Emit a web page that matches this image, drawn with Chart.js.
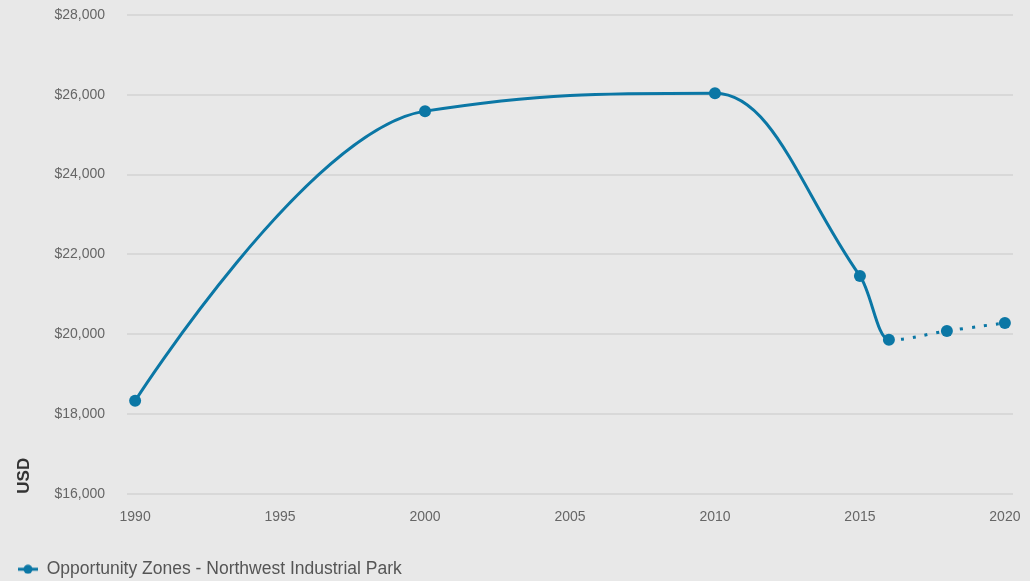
<!DOCTYPE html>
<html>
<head>
<meta charset="utf-8">
<script src="https://cdn.jsdelivr.net/npm/chart.js@4/dist/chart.umd.min.js"></script>
<style>
  html, body { margin: 0; padding: 0; background: #e8e8e8; }
  #wrap { width: 1030px; height: 581px; position: relative; }
</style>
</head>
<body>
<div id="wrap"><canvas id="c"></canvas></div>
<script>
const years = [1990, 2000, 2010, 2015, 2016, 2018, 2020];
const values = [18330, 25590, 26040, 21460, 19860, 20080, 20280];
const xTicks = [1990, 1995, 2000, 2005, 2010, 2015, 2020];
const seriesLabel = 'Opportunity Zones - Northwest Industrial Park';
const projectedFrom = 2016;

const lineColor = '#0b77a5';

const icon = document.createElement('canvas');
icon.width = 20; icon.height = 10;
(function(){
  const g = icon.getContext('2d');
  g.strokeStyle = lineColor; g.lineWidth = 3;
  g.beginPath(); g.moveTo(0, 5); g.lineTo(20, 5); g.stroke();
  g.fillStyle = lineColor;
  g.beginPath(); g.arc(10, 5, 4.5, 0, Math.PI * 2); g.fill();
})();

// Spline control points (smoothing 1.5, no false extremes)
const splinePlugin = {
  id: 'splinePlugin',
  beforeDatasetDraw(chart, args) {
    const meta = args.meta;
    const pts = meta.data;
    const s = 1.5, d = s + 1;
    for (let i = 0; i < pts.length; i++) {
      const p = pts[i], prev = pts[i - 1], next = pts[i + 1];
      if (!prev || !next) {
        p.cp1x = p.x; p.cp1y = p.y; p.cp2x = p.x; p.cp2y = p.y;
        continue;
      }
      let lx = (s * p.x + prev.x) / d, ly = (s * p.y + prev.y) / d;
      let rx = (s * p.x + next.x) / d, ry = (s * p.y + next.y) / d;
      if (rx !== lx) {
        const corr = ((ry - ly) * (rx - p.x)) / (rx - lx) + p.y - ry;
        ly += corr; ry += corr;
      }
      if (ly > prev.y && ly > p.y) { ly = Math.max(prev.y, p.y); ry = 2 * p.y - ly; }
      else if (ly < prev.y && ly < p.y) { ly = Math.min(prev.y, p.y); ry = 2 * p.y - ly; }
      if (ry > next.y && ry > p.y) { ry = Math.max(next.y, p.y); ly = 2 * p.y - ry; }
      else if (ry < next.y && ry < p.y) { ry = Math.min(next.y, p.y); ly = 2 * p.y - ry; }
      p.cp1x = lx; p.cp1y = ly; p.cp2x = rx; p.cp2y = ry;
    }
    meta.dataset._pointsUpdated = true;
  }
};

Chart.defaults.font.family = '"Liberation Sans", Arial, sans-serif';

new Chart(document.getElementById('c'), {
  type: 'line',
  plugins: [splinePlugin],
  data: {
    datasets: [{
      label: seriesLabel,
      data: years.map((y, i) => ({ x: y, y: values[i] })),
      borderColor: lineColor,
      backgroundColor: lineColor,
      borderWidth: 3,
      pointRadius: 6,
      pointHoverRadius: 6,
      pointBackgroundColor: lineColor,
      pointBorderWidth: 0,
      tension: 0.4,
      segment: {
        borderDash: ctx => ctx.p0.parsed.x >= projectedFrom ? [3, 9] : undefined
      }
    }]
  },
  options: {
    responsive: true,
    maintainAspectRatio: false,
    animation: false,
    layout: { autoPadding: false, padding: { left: 14, right: 17, top: 15, bottom: -7 } },
    plugins: {
      legend: {
        position: 'bottom',
        align: 'start',
        labels: {
          usePointStyle: true,
          pointStyle: icon,
          pointStyleWidth: 20,
          color: '#555',
          font: { size: 17.5 },
          padding: 4
        }
      },
      tooltip: { enabled: false }
    },
    scales: {
      x: {
        type: 'linear',
        min: 1989.72,
        max: 2020.28,
        afterBuildTicks: axis => { axis.ticks = xTicks.map(v => ({ value: v })); },
        afterFit: axis => { axis.height += 16; axis.paddingLeft = 0; axis.paddingRight = 0; },
        grid: { display: false, drawTicks: false },
        border: { display: false },
        ticks: {
          color: '#666',
          font: { size: 14 },
          padding: 15,
          maxRotation: 0,
          autoSkip: false,
          callback: v => String(v)
        }
      },
      y: {
        min: 16000,
        max: 28000,
        afterFit: axis => { axis.width = 113; axis.paddingTop = 0; axis.paddingBottom = 0; },
        grid: { color: '#d8d8d8', lineWidth: 2, drawTicks: false },
        border: { display: false },
        ticks: {
          stepSize: 2000,
          color: '#666',
          font: { size: 14 },
          padding: 22,
          callback: v => '$' + v.toLocaleString('en-US')
        },
        title: {
          display: true,
          text: 'USD',
          align: 'start',
          color: '#333',
          font: { size: 17, weight: 'bold' },
          padding: { top: 0, bottom: 0 }
        }
      }
    }
  }
});
</script>
</body>
</html>
